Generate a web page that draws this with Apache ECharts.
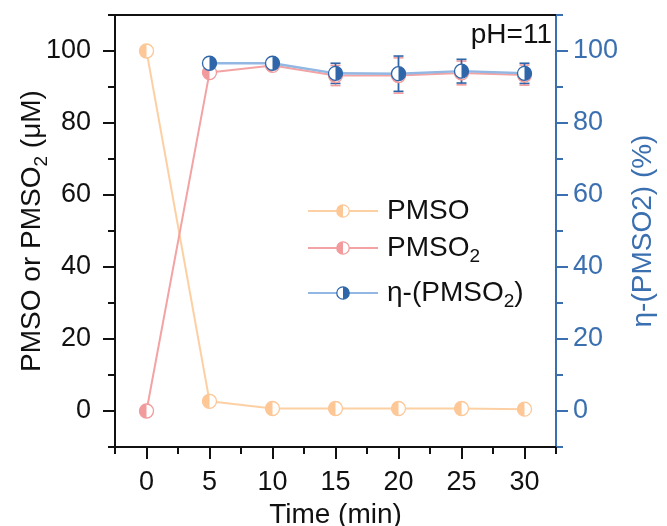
<!DOCTYPE html>
<html>
<head>
<meta charset="utf-8">
<script src="https://cdn.jsdelivr.net/npm/echarts@6/dist/echarts.min.js"></script>
<style>html,body{margin:0;padding:0;background:#fff}#c{width:667px;height:526px}</style>
</head>
<body>
<div id="c"></div>
<script>
// ---- data ----
const times = [0, 5, 10, 15, 20, 25, 30];
const pmso = [100, 2.7, 0.7, 0.7, 0.7, 0.7, 0.5];
const pmso2 = [0, 94.0, 96.0, 93.2, 93.2, 93.9, 93.3];
const pmso2Err = [0, 0.5, 0.5, 2.8, 4.9, 3.3, 2.8];
const etaTimes = [5, 10, 15, 20, 25, 30];
const eta = [96.6, 96.6, 93.8, 93.7, 94.4, 93.8];
const etaErr = [0.8, 0.8, 2.8, 4.9, 3.3, 2.8];
const xTicks = [0, 5, 10, 15, 20, 25, 30];
const xMinorTicks = [-2.5, 2.5, 7.5, 12.5, 17.5, 22.5, 27.5, 32.5];
const yTicks = [0, 20, 40, 60, 80, 100];
const yMinorTicks = [-10, 10, 30, 50, 70, 90, 110];

// ---- styles ----
const FONT = "'Liberation Sans', Arial, Helvetica, sans-serif";
const C_PMSO = '#fdc796', C_PMSO_LINE = '#fdd0a4';
const C_PMSO2 = '#f29b9c', C_PMSO2_LINE = '#f3a3a4';
const C_ETA = '#2f66a9', C_ETA_LINE = '#92b7e3';
const C_AXIS_R = '#3a6fb0';

function icon(lineC, markC, side) {
  const arc = side === 'left' ? 'M36 1.6 A6.4 6.4 0 0 0 36 14.4 Z' : 'M36 1.6 A6.4 6.4 0 0 1 36 14.4 Z';
  const svg = "<svg xmlns='http://www.w3.org/2000/svg' width='70' height='16' viewBox='0 0 72 16'>" +
    "<line x1='0' y1='8' x2='72' y2='8' stroke='" + lineC + "' stroke-width='2'/>" +
    "<circle cx='36' cy='8' r='6.4' fill='#fff' stroke='" + markC + "' stroke-width='1.3'/>" +
    "<path d='" + arc + "' fill='" + markC + "'/></svg>";
  return 'image://data:image/svg+xml;charset=utf-8,' + encodeURIComponent(svg);
}

function pairs(xs, ys) { return xs.map((x, i) => [x, ys[i]]); }
function triples(xs, ys, es) { return xs.map((x, i) => [x, ys[i], es[i]]); }

function markerSeries(name, data, yIdx, color, side) {
  return {
    name: name, type: 'custom', xAxisIndex: 0, yAxisIndex: yIdx, z: 5,
    data: data,
    renderItem: function (params, api) {
      const p = api.coord([api.value(0), api.value(1)]);
      const r = 7;
      const s = side === 'left' ? [Math.PI / 2, Math.PI * 1.5] : [-Math.PI / 2, Math.PI / 2];
      return {
        type: 'group', children: [
          { type: 'circle', shape: { cx: p[0], cy: p[1], r: r }, style: { fill: '#fff', stroke: color, lineWidth: 1.3 } },
          { type: 'sector', shape: { cx: p[0], cy: p[1], r0: 0, r: r, startAngle: s[0], endAngle: s[1], clockwise: true }, style: { fill: color } }
        ]
      };
    }
  };
}

function errorSeries(name, data, yIdx, color) {
  return {
    name: name, type: 'custom', xAxisIndex: 0, yAxisIndex: yIdx, z: 4,
    data: data,
    renderItem: function (params, api) {
      const x = api.value(0), y = api.value(1), e = api.value(2);
      const top = api.coord([x, y + e]);
      const bot = api.coord([x, y - e]);
      const w = 5;
      const st = { stroke: color, lineWidth: 1.6 };
      return {
        type: 'group', children: [
          { type: 'line', shape: { x1: top[0], y1: top[1], x2: bot[0], y2: bot[1] }, style: st },
          { type: 'line', shape: { x1: top[0] - w, y1: top[1], x2: top[0] + w, y2: top[1] }, style: st },
          { type: 'line', shape: { x1: bot[0] - w, y1: bot[1], x2: bot[0] + w, y2: bot[1] }, style: st }
        ]
      };
    }
  };
}

const rich = {
  a: { fontSize: 28, fontFamily: FONT, color: '#111' },
  s: { fontSize: 19, fontFamily: FONT, color: '#111', padding: [18, 0, 0, 0] }
};
function legendCfg(name, ic, top) {
  return {
    data: [{ name: name, icon: ic }],
    left: 308, top: top, padding: 0,
    itemWidth: 70, itemHeight: 16,
    selectedMode: false,
    formatter: function (n) {
      if (n === 'PMSO') return '{a|PMSO}';
      if (n === 'PMSO2') return '{a|PMSO}{s|2}';
      return '{a|η-(PMSO}{s|2}{a|)}';
    },
    textStyle: { rich: rich, padding: [0, 0, 0, 4] }
  };
}

const blackLine = { show: true, onZero: false, lineStyle: { color: '#111', width: 2 } };
const noLine = { show: false, onZero: false };

const option = {
  animation: false,
  backgroundColor: '#fff',
  grid: { left: 115, right: 111, top: 15, bottom: 79, outerBoundsMode: 'none', containLabel: false },
  legend: [
    legendCfg('PMSO', icon(C_PMSO_LINE, C_PMSO, 'left'), 197),
    legendCfg('PMSO2', icon(C_PMSO2_LINE, C_PMSO2, 'left'), 234),
    legendCfg('η-(PMSO2)', icon(C_ETA_LINE, C_ETA, 'right'), 279)
  ],
  graphic: [{
    type: 'text', right: 115, top: 21,
    style: { text: 'pH=11', font: '28px ' + FONT, fill: '#111', textAlign: 'right' }
  }],
  xAxis: [
    {
      type: 'value', position: 'bottom', min: -2.5, max: 32.5,
      axisLine: blackLine, splitLine: { show: false },
      axisTick: { customValues: xTicks, length: 12, lineStyle: { color: '#111', width: 2 } },
      axisLabel: { customValues: xTicks, fontSize: 27, fontFamily: FONT, color: '#111', margin: 22 },
      name: 'Time (min)', nameLocation: 'middle', nameGap: 50,
      nameTextStyle: { fontSize: 28, fontFamily: FONT, color: '#111' }
    },
    {
      type: 'value', position: 'bottom', min: -2.5, max: 32.5,
      axisLine: noLine, splitLine: { show: false }, axisLabel: { show: false },
      axisTick: { customValues: xMinorTicks, length: 7, lineStyle: { color: '#111', width: 2 } }
    },
    {
      type: 'value', position: 'top', min: -2.5, max: 32.5,
      axisLine: blackLine, splitLine: { show: false }, axisLabel: { show: false }, axisTick: { show: false }
    }
  ],
  yAxis: [
    {
      type: 'value', position: 'left', min: -10, max: 110,
      axisLine: blackLine, splitLine: { show: false },
      axisTick: { show: true, customValues: yTicks, length: 12, lineStyle: { color: '#111', width: 2 } },
      axisLabel: { customValues: yTicks, fontSize: 27, fontFamily: FONT, color: '#111', margin: 24 },
      name: '{a|PMSO or PMSO}{s|2}{a| (μM)}', nameLocation: 'middle', nameGap: 64,
      nameMoveOverlap: false,
      nameTextStyle: { rich: rich }
    },
    {
      type: 'value', position: 'left', min: -10, max: 110,
      axisLine: noLine, splitLine: { show: false }, axisLabel: { show: false },
      axisTick: { show: true, customValues: yMinorTicks, length: 7, lineStyle: { color: '#111', width: 2 } }
    },
    {
      type: 'value', position: 'right', min: -10, max: 110,
      axisLine: { show: true, onZero: false, lineStyle: { color: C_AXIS_R, width: 2 } }, splitLine: { show: false },
      axisTick: { show: true, customValues: yTicks, length: 12, lineStyle: { color: C_AXIS_R, width: 2 } },
      axisLabel: { customValues: yTicks, fontSize: 27, fontFamily: FONT, color: C_AXIS_R, margin: 17 },
      name: 'η-(PMSO2) (%)', nameLocation: 'middle', nameGap: 41,
      nameTextStyle: { fontSize: 28, fontFamily: FONT, color: C_AXIS_R }
    },
    {
      type: 'value', position: 'right', min: -10, max: 110,
      axisLine: noLine, splitLine: { show: false }, axisLabel: { show: false },
      axisTick: { show: true, customValues: yMinorTicks, length: 7, lineStyle: { color: C_AXIS_R, width: 2 } }
    }
  ],
  series: [
    { name: 'PMSO', type: 'line', xAxisIndex: 0, yAxisIndex: 0, data: pairs(times, pmso), showSymbol: false, symbol: 'none', lineStyle: { color: C_PMSO_LINE, width: 2 }, itemStyle: { color: C_PMSO }, z: 2 },
    { name: 'PMSO2', type: 'line', xAxisIndex: 0, yAxisIndex: 0, data: pairs(times, pmso2), showSymbol: false, symbol: 'none', lineStyle: { color: C_PMSO2_LINE, width: 2 }, itemStyle: { color: C_PMSO2 }, z: 2 },
    { name: 'η-(PMSO2)', type: 'line', xAxisIndex: 0, yAxisIndex: 2, data: pairs(etaTimes, eta), showSymbol: false, symbol: 'none', lineStyle: { color: C_ETA_LINE, width: 2.4 }, itemStyle: { color: C_ETA }, z: 3 },
    errorSeries('PMSO2', triples(times, pmso2, pmso2Err), 0, C_PMSO2),
    errorSeries('η-(PMSO2)', triples(etaTimes, eta, etaErr), 2, C_ETA),
    markerSeries('PMSO', pairs(times, pmso), 0, C_PMSO, 'left'),
    markerSeries('PMSO2', pairs(times, pmso2), 0, C_PMSO2, 'left'),
    markerSeries('η-(PMSO2)', pairs(etaTimes, eta), 2, C_ETA, 'right')
  ]
};

const chart = echarts.init(document.getElementById('c'), null, { renderer: 'canvas' });
chart.setOption(option);
</script>
</body>
</html>
